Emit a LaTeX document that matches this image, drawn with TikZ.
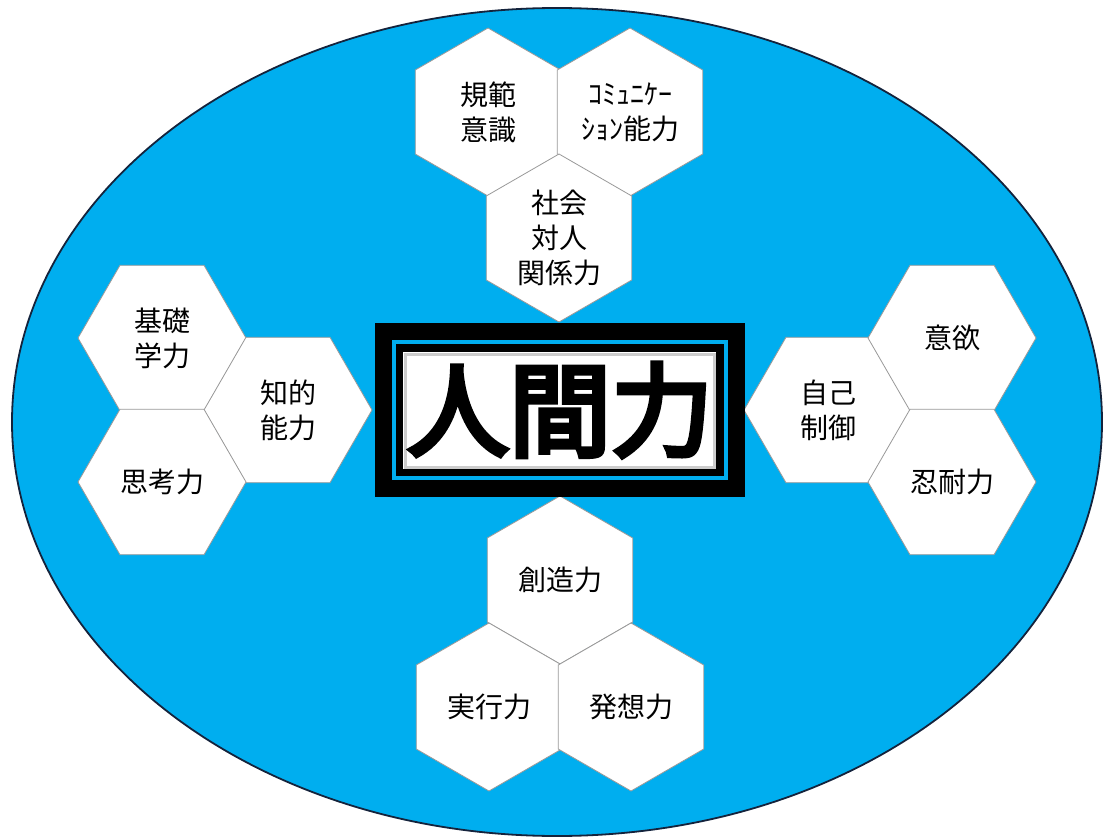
\documentclass[tikz,border=0pt]{standalone}
\usepackage{fontspec}
\usetikzlibrary{shapes.geometric}
\newfontfamily\jpfont{Noto Sans CJK JP}
\newfontfamily\brushfont{Noto Sans CJK JP}[FakeBold=5]
\definecolor{skyblue}{RGB}{0,174,239}
\definecolor{rimnavy}{RGB}{20,35,60}
\colorlet{hexline}{black!40}

\begin{document}
\begin{tikzpicture}[
        x=1pt, y=-1pt,
        hexflat/.style={
            draw=hexline,
            fill=white,
            line width=0.8pt,
            regular polygon,
            regular polygon sides=6,
            minimum size=168,
            inner sep=0pt,
            align=center,
            font=\jpfont\fontsize{28}{35}\selectfont,
        },
        hexup/.style={
            hexflat,
            shape border rotate=30,
        },
    ]
    \useasboundingbox (0, 0) rectangle (1106, 837);

    \draw[fill=skyblue, draw=rimnavy, line width=1.8pt]
        (557, 422) ellipse [x radius=545, y radius=414];

    % top cluster
    \node[hexup] (t1) at (488, 112) {規範\\意識};
    \node[hexup] (t2) at (630, 112) {ｺﾐｭﾆｹｰ\\ｼｮﾝ能力};
    \node[hexup] (t3) at (559, 238) {社会\\対人\\関係力};

    % left cluster
    \node[hexflat] (l1) at (162, 338) {基礎\\学力};
    \node[hexflat] (l2) at (288, 410) {知的\\能力};
    \node[hexflat] (l3) at (162, 482) {思考力};

    % right cluster
    \node[hexflat] (r1) at (828, 410) {自己\\制御};
    \node[hexflat] (r2) at (952, 338) {意欲};
    \node[hexflat] (r3) at (952, 482) {忍耐力};

    % bottom cluster
    \node[hexup] (d1) at (560, 580) {創造力};
    \node[hexup] (d2) at (489, 707) {実行力};
    \node[hexup] (d3) at (631, 707) {発想力};

    % center frame
    \fill[black] (375, 323) rectangle (745, 497);
    \draw[skyblue, line width=4pt] (394, 342) rectangle (726, 478);
    \fill[white] (403, 352) rectangle (716, 469);
    \draw[black!20, line width=3pt] (405, 354) rectangle (714, 467);
    \node[font=\brushfont\fontsize{102}{102}\selectfont] (core) at (560, 410) {人間力};
\end{tikzpicture}
\end{document}
